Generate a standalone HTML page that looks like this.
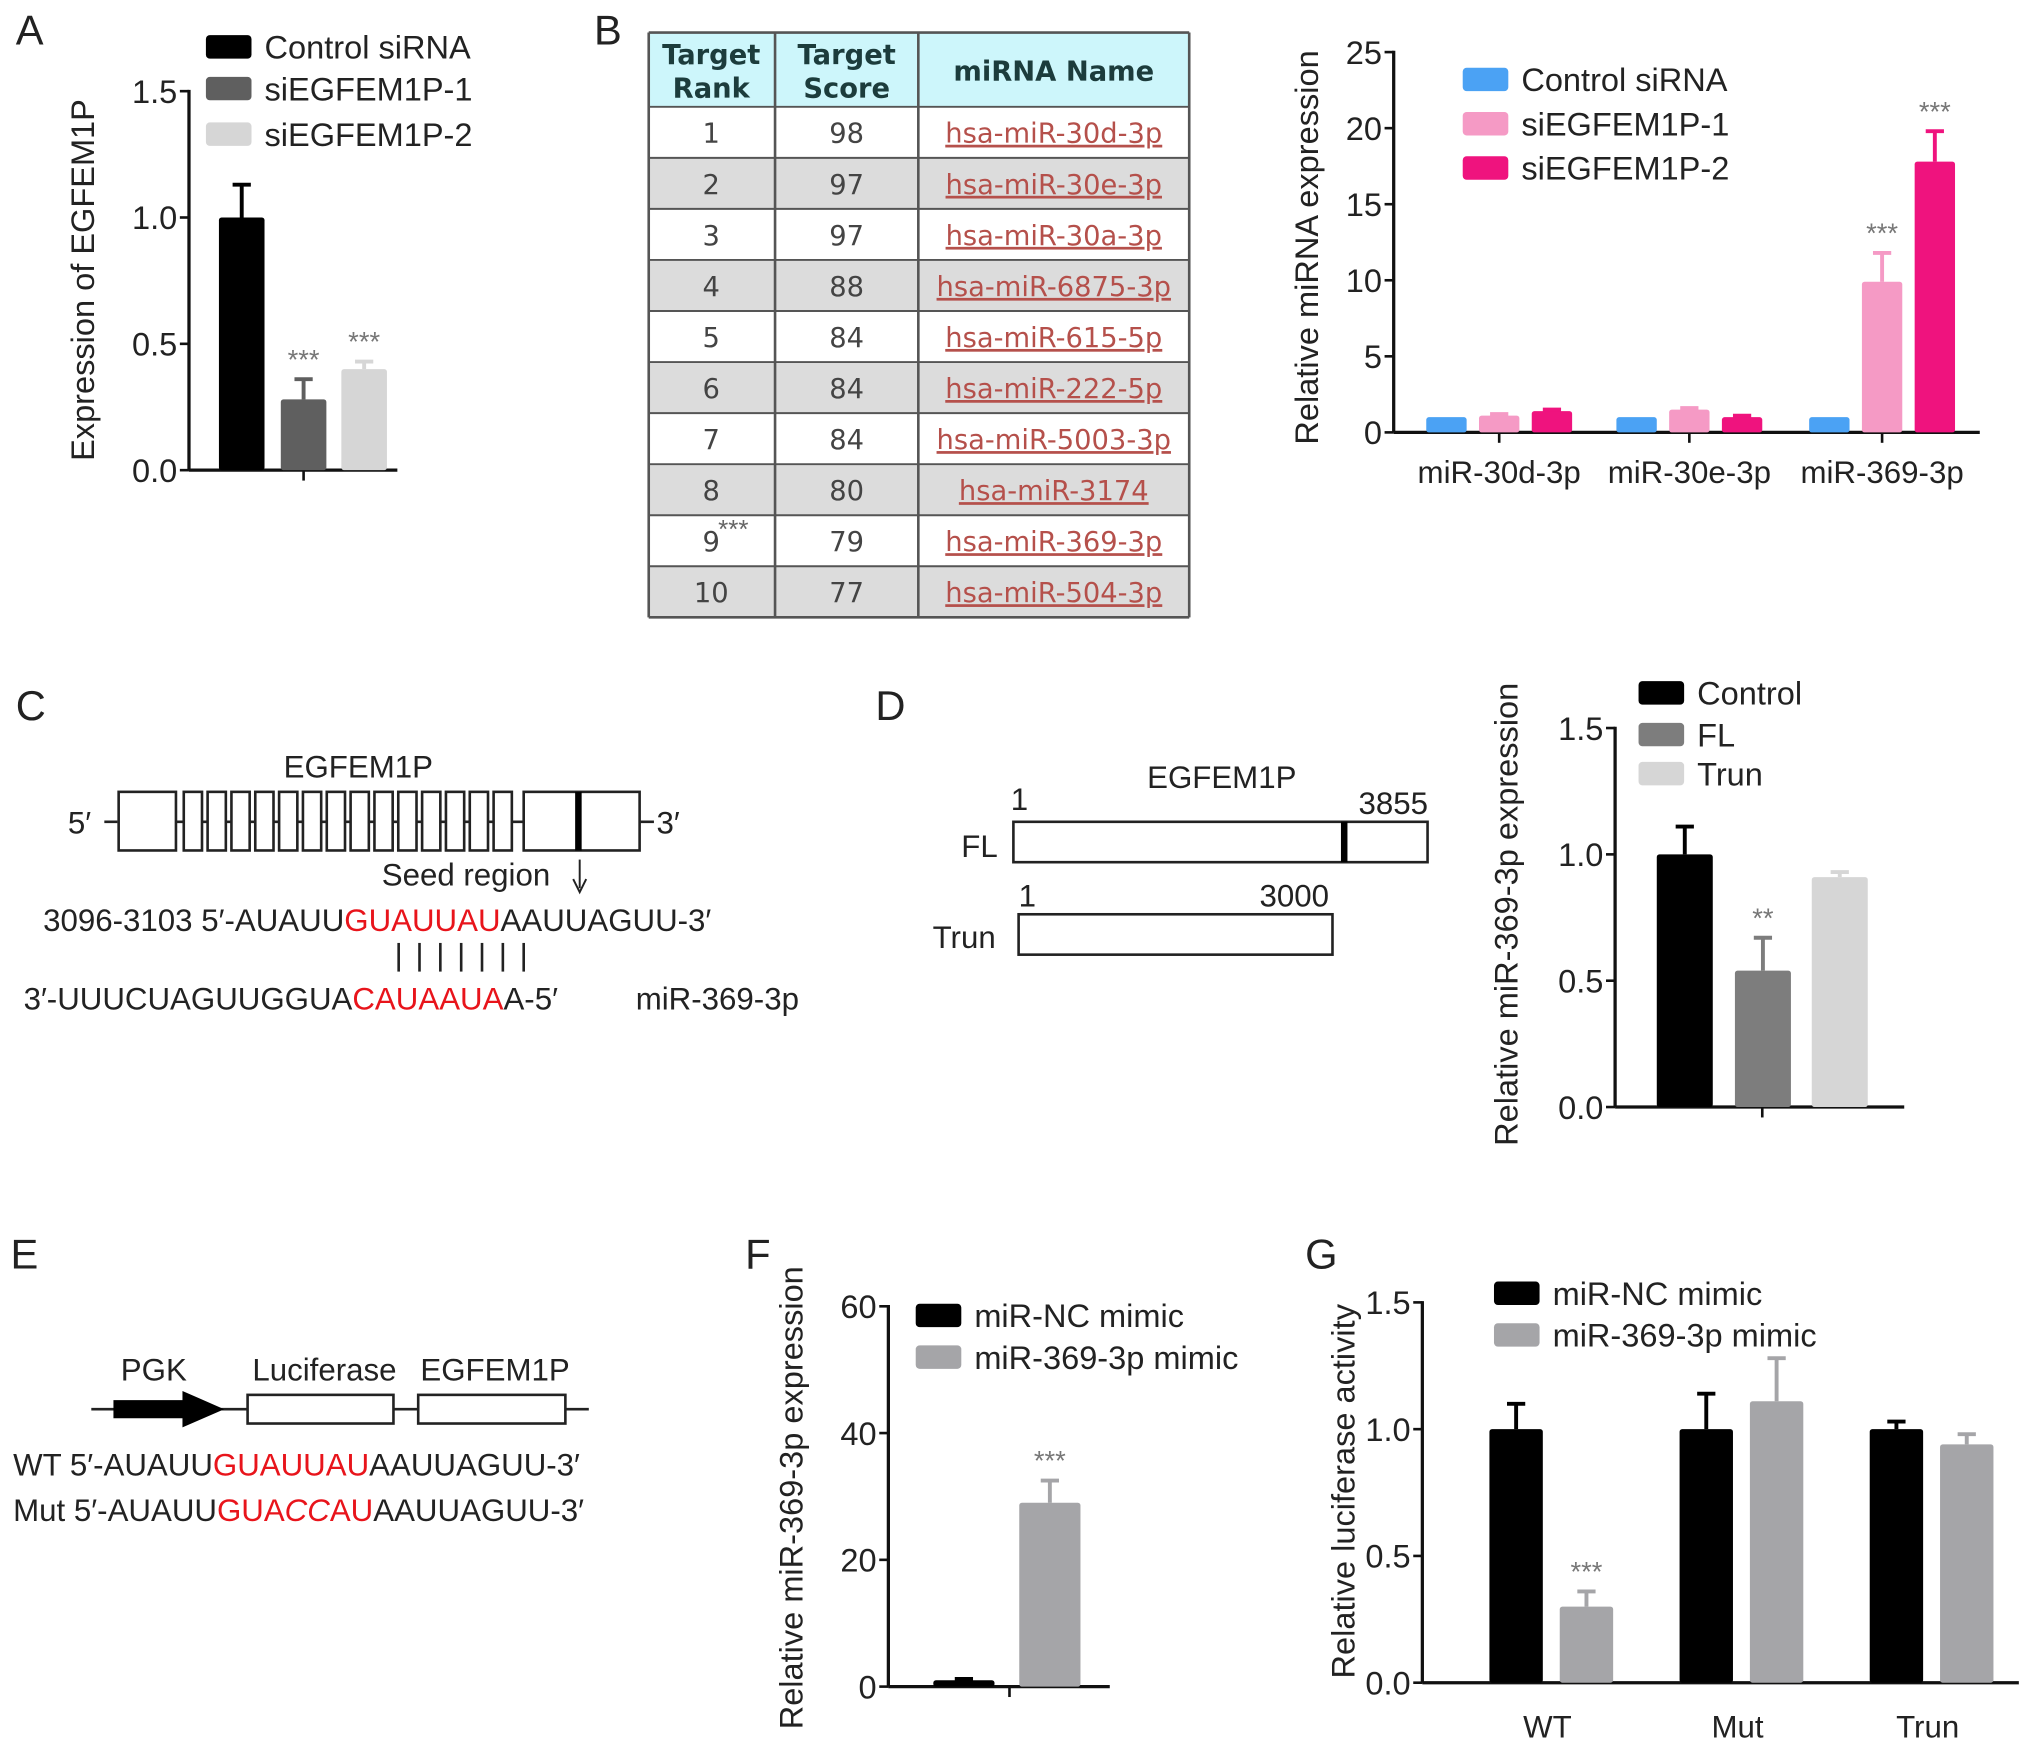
<!DOCTYPE html>
<html><head><meta charset="utf-8"><style>
html,body{margin:0;padding:0;background:#fff}
svg{display:block}
text{font-family:"Liberation Sans",Arial,sans-serif}
.tbl{font-family:"DejaVu Sans","Liberation Sans",sans-serif}
</style></head><body>
<svg id="fig" width="2032" height="1740" viewBox="0 0 1560 1336" fill="#222" xmlns="http://www.w3.org/2000/svg">
<g font-size="32">
<text x="12" y="34">A</text>
<text x="456" y="34">B</text>
<text x="12" y="553">C</text>
<text x="672" y="553">D</text>
<text x="8" y="974">E</text>
<text x="572" y="974">F</text>
<text x="1002" y="974">G</text>
</g>
<g id="table"></g>
<g font-size="24">
<text x="275" y="597" text-anchor="middle">EGFEM1P</text>
<text x="52" y="640">5′</text>
<line x1="80" y1="631" x2="90" y2="631" stroke="#222" stroke-width="2"/>
<line x1="90" y1="631" x2="492" y2="631" stroke="#222" stroke-width="2"/>
<line x1="492" y1="631" x2="502" y2="631" stroke="#222" stroke-width="2"/>
<text x="504" y="640">3′</text>
<rect x="91" y="608" width="44" height="45" fill="#fff" stroke="#222" stroke-width="2"/>
<g id="exons"></g>
<rect x="402" y="608" width="89" height="45" fill="#fff" stroke="#222" stroke-width="2"/>
<line x1="444" y1="608" x2="444" y2="653" stroke="#000" stroke-width="5"/>
<text x="293" y="680">Seed region</text>
<line x1="445" y1="660" x2="445" y2="682" stroke="#222" stroke-width="1.5"/>
<path d="M440 675 L445 685 L450 675" fill="none" stroke="#222" stroke-width="1.5"/>
<text x="33" y="715">3096-3103 5′-AUAUU<tspan fill="#e8141b">GUAUUAU</tspan>AAUUAGUU-3′</text>
<g id="pairs" stroke="#222" stroke-width="2"></g>
<text x="18" y="775">3′-UUUCUAGUUGGUA<tspan fill="#e8141b">CAUAAUA</tspan>A-5′</text>
<text x="488" y="775">miR-369-3p</text>
</g>
<g font-size="24">
<text x="938" y="605" text-anchor="middle">EGFEM1P</text>
<text x="776" y="622">1</text>
<text x="1043" y="625">3855</text>
<rect x="778" y="631" width="318" height="31" fill="#fff" stroke="#222" stroke-width="2"/>
<line x1="1032" y1="631" x2="1032" y2="662" stroke="#000" stroke-width="5"/>
<text x="738" y="658">FL</text>
<text x="782" y="696">1</text>
<text x="967" y="696">3000</text>
<rect x="782" y="702" width="241" height="31" fill="#fff" stroke="#222" stroke-width="2"/>
<text x="716" y="728">Trun</text>
</g>
<g font-size="24">
<line x1="70" y1="1082" x2="452" y2="1082" stroke="#222" stroke-width="2"/>
<path d="M87 1075 L140 1075 L140 1068 L172 1082 L140 1096 L140 1089 L87 1089 Z" fill="#000"/>
<rect x="190" y="1071" width="112" height="22" fill="#fff" stroke="#222" stroke-width="2"/>
<rect x="321" y="1071" width="113" height="22" fill="#fff" stroke="#222" stroke-width="2"/>
<text x="118" y="1060" text-anchor="middle">PGK</text>
<text x="249" y="1060" text-anchor="middle">Luciferase</text>
<text x="380" y="1060" text-anchor="middle">EGFEM1P</text>
<text x="10" y="1133">WT 5′-AUAUU<tspan fill="#e8141b">GUAUUAU</tspan>AAUUAGUU-3′</text>
<text x="10" y="1168">Mut 5′-AUAUU<tspan fill="#e8141b">GUA<tspan font-style="italic">CC</tspan>AU</tspan>AAUUAGUU-3′</text>
</g>
<g id="charts"></g>
</svg>
<script>
// Panel A data
const aCats=["Control siRNA","siEGFEM1P-1","siEGFEM1P-2"];
const aVals=[1.0,0.28,0.40];
const aErr=[0.13,0.08,0.03];
const aTicks=["0.0","0.5","1.0","1.5"];
// Panel B chart data
const bGroups=["miR-30d-3p","miR-30e-3p","miR-369-3p"];
const bSeries=["Control siRNA","siEGFEM1P-1","siEGFEM1P-2"];
const bCtrl=[1.0,1.0,1.0];
const bSi1=[1.1,1.5,9.9];
const bSi2=[1.4,1.0,17.8];
const bErr1=[0.1,0.1,1.9];
const bErr2=[0.1,0.1,2.0];
const bTicks=["0","5","10","15","20","25"];
// Table data
const tRank=["1","2","3","4","5","6","7","8","9","10"];
const tScore=["98","97","97","88","84","84","84","80","79","77"];
const tName=["hsa-miR-30d-3p","hsa-miR-30e-3p","hsa-miR-30a-3p","hsa-miR-6875-3p","hsa-miR-615-5p","hsa-miR-222-5p","hsa-miR-5003-3p","hsa-miR-3174","hsa-miR-369-3p","hsa-miR-504-3p"];
// Panel D data
const dCats=["Control","FL","Trun"];
const dVals=[1.0,0.54,0.91];
const dErr=[0.11,0.13,0.02];
const dTicks=["0.0","0.5","1.0","1.5"];
// Panel F data
const fCats=["miR-NC mimic","miR-369-3p mimic"];
const fVals=[1.0,29.0];
const fErr=[0.2,3.5];
const fTicks=["0","20","40","60"];
// Panel G data
const gGroups=["WT","Mut","Trun"];
const gNC=[1.0,1.0,1.0];
const gMimic=[0.30,1.11,0.94];
const gErrNC=[0.10,0.14,0.03];
const gErrMimic=[0.06,0.17,0.04];
const gTicks=["0.0","0.5","1.0","1.5"];

const NS="http://www.w3.org/2000/svg";
function mk(tag,attrs,parent){const e=document.createElementNS(NS,tag);for(const k in attrs)e.setAttribute(k,attrs[k]);parent.appendChild(e);return e;}
const charts=document.getElementById('charts');

const ex=document.getElementById('exons');
for(let i=0;i<14;i++){const r=mk('rect',{x:141+i*18.3,y:608,width:14,height:45,fill:'#fff',stroke:'#222','stroke-width':2},ex);

}
const pr=document.getElementById('pairs');
for(let i=0;i<7;i++){mk('line',{x1:306+i*16,y1:724,x2:306+i*16,y2:746},pr);}

const tb=document.getElementById('table');
const tx=[498,595,705,913],rh=39.2;
mk('rect',{x:498,y:25,width:415,height:57,fill:'#cdf6fb'},tb);
for(let i=0;i<10;i++){const r=mk('rect',{x:498,y:82+i*rh,width:415,height:rh,fill:i%2?'#dcdcdc':'#fff'},tb);

}
for(let i=0;i<=11;i++){const y=i==0?25:82+(i-1)*rh;mk('line',{x1:498,y1:y,x2:913,y2:y,stroke:'#555','stroke-width':i==0||i==11?2:1.5},tb);}
tx.forEach(x=>mk('line',{x1:x,y1:25,x2:x,y2:474,stroke:'#555','stroke-width':2},tb));
[["Target","Rank",546],["Target","Score",650]].forEach(h=>{
 const t1=mk('text',{x:h[2],y:49,'text-anchor':'middle','font-size':21,'font-weight':'bold',class:'tbl',fill:'#1c3c3c'},tb);t1.textContent=h[0];
 
 
 const t2=mk('text',{x:h[2],y:75,'text-anchor':'middle','font-size':21,'font-weight':'bold',class:'tbl',fill:'#1c3c3c'},tb);t2.textContent=h[1];});
const hn=mk('text',{x:809,y:62,'text-anchor':'middle','font-size':21,'font-weight':'bold',class:'tbl',fill:'#1c3c3c'},tb);hn.textContent="miRNA Name";


for(let i=0;i<10;i++){const y=82+i*rh+rh/2+8;
 const a=mk('text',{x:546,y:y,'text-anchor':'middle','font-size':21,class:'tbl',fill:'#444'},tb);a.textContent=tRank[i];
 const b=mk('text',{x:650,y:y,'text-anchor':'middle','font-size':21,class:'tbl',fill:'#444'},tb);b.textContent=tScore[i];
 const c=mk('text',{x:809,y:y,'text-anchor':'middle','font-size':21,class:'tbl',fill:'#b5504b','text-decoration':'underline'},tb);c.textContent=tName[i];
 
 }
const st=mk('text',{x:563,y:413,'text-anchor':'middle','font-size':20,fill:'#666'},tb);st.textContent="***";

function axis(g,x0,x1,yTop,yBot,vmax,ticks,title,tx,ty,tickX){
 mk('line',{x1:x0,y1:yTop-1,x2:x0,y2:yBot,stroke:'#111','stroke-width':2.5},g);
 mk('line',{x1:x0,y1:yBot,x2:x1,y2:yBot,stroke:'#111','stroke-width':2.5},g);
 ticks.forEach(t=>{const v=parseFloat(t);const y=yBot-(v/vmax)*(yBot-yTop);
  mk('line',{x1:x0-7,y1:y,x2:x0,y2:y,stroke:'#111','stroke-width':2},g);
  const e=mk('text',{x:x0-9,y:y+9,'text-anchor':'end','font-size':25},g);e.textContent=t;
  
  });
 (tickX||[]).forEach(x=>mk('line',{x1:x,y1:yBot,x2:x,y2:yBot+8,stroke:'#111','stroke-width':2},g));
 const tt=mk('text',{x:tx,y:ty,'text-anchor':'middle','font-size':25,transform:`rotate(-90 ${tx} ${ty})`},g);tt.textContent=title;
 
 
}
function bar(g,cx,w,v,err,yBot,scale,color,name){
 const y=yBot-v*scale;
 if(err>0){const ye=yBot-(v+err)*scale;
  mk('line',{x1:cx,y1:ye,x2:cx,y2:y,stroke:color,'stroke-width':3},g);
  mk('line',{x1:cx-7,y1:ye,x2:cx+7,y2:ye,stroke:color,'stroke-width':3},g);}
 const r=mk('rect',{x:cx-w/2,y:y,width:w,height:v*scale,fill:color,rx:2},g);
 
 
 return y;
}
function legend(g,x,ys,labels,colors){
 labels.forEach((l,i)=>{const s=mk('rect',{x:x,y:ys[i]-9,width:35,height:18,fill:colors[i],rx:3},g);
  
  
  const t=mk('text',{x:x+45,y:ys[i]+9,'font-size':25},g);t.textContent=l;
  
  });
}
function stars(g,x,y,s){const t=mk('text',{x:x,y:y,'text-anchor':'middle','font-size':21,fill:'#777'},g);t.textContent=s;
 
 }

{const g=mk('g',{},charts);
 const yB=361,yT=70,vm=1.5,sc=(yB-yT)/vm,cols=['#000','#5f5f5f','#d6d6d6'],cx=[185.5,233,279.5];
 axis(g,145,305,yT,yB,vm,aTicks,"Expression of EGFEM1P",72,215,[233]);
 aCats.forEach((c,i)=>{bar(g,cx[i],35,aVals[i],aErr[i],yB,sc,cols[i],'bar-a-'+i);
  if(i>0)stars(g,cx[i],yB-(aVals[i]+aErr[i])*sc-8,'***');});
 legend(g,158,[36,68,103],aCats,cols);}
{const g=mk('g',{},charts);
 const yB=332,yT=40,vm=25,sc=(yB-yT)/vm,cols=['#4ba2f4','#f59ac5','#ef137e'],cen=[1151,1297,1445];
 axis(g,1070,1520,yT,yB,vm,bTicks,"Relative miRNA expression",1012,190,cen);
 const vals=[bCtrl,bSi1,bSi2],errs=[[0,0,0],bErr1,bErr2];
 bGroups.forEach((gr,j)=>{
  vals.forEach((s,i)=>{const cx=cen[j]+(i-1)*40.5;bar(g,cx,31,s[j],errs[i][j],yB,sc,cols[i],'bar-b-'+j+'-'+i);
   if(j==2&&i>0)stars(g,cx,yB-(s[j]+errs[i][j])*sc-8,'***');});
  const t=mk('text',{x:cen[j],y:371,'text-anchor':'middle','font-size':24},g);t.textContent=gr;
  
  });
 legend(g,1123,[61,95,129],bSeries,cols);}
{const g=mk('g',{},charts);
 const yB=850,yT=559,vm=1.5,sc=(yB-yT)/vm,cols=['#000','#7d7d7d','#d6d6d6'],cx=[1293.5,1353.5,1412.5];
 axis(g,1240,1462,yT,yB,vm,dTicks,"Relative miR-369-3p expression",1165,702,[1353]);
 dCats.forEach((c,i)=>{bar(g,cx[i],43,dVals[i],dErr[i],yB,sc,cols[i],'bar-d-'+i);
  if(i==1)stars(g,cx[i],yB-(dVals[i]+dErr[i])*sc-8,'**');});
 legend(g,1258,[532,564,594],dCats,cols);}
{const g=mk('g',{},charts);
 const yB=1295,yT=1003,vm=60,sc=(yB-yT)/vm,cols=['#000','#a5a5a8'],cx=[740,806];
 axis(g,682,852,yT,yB,vm,fTicks,"Relative miR-369-3p expression",616,1150,[775]);
 fCats.forEach((c,i)=>{bar(g,cx[i],47,fVals[i],fErr[i],yB,sc,cols[i],'bar-f-'+i);
  if(i==1)stars(g,cx[i],yB-(fVals[i]+fErr[i])*sc-8,'***');});
 legend(g,703,[1010,1042],fCats,cols);}
{const g=mk('g',{},charts);
 const yB=1292,yT=1000,vm=1.5,sc=(yB-yT)/vm,cols=['#000','#a5a5a8'],cen=[1191,1337,1483];
 axis(g,1092,1550,yT,yB,vm,gTicks,"Relative luciferase activity",1040,1145,[]);
 gGroups.forEach((gr,j)=>{
  bar(g,cen[j]-27,41,gNC[j],gErrNC[j],yB,sc,cols[0],'bar-g-nc-'+j);
  bar(g,cen[j]+27,41,gMimic[j],gErrMimic[j],yB,sc,cols[1],'bar-g-mimic-'+j);
  if(j==0)stars(g,cen[j]+27,yB-(gMimic[j]+gErrMimic[j])*sc-8,'***');
  const t=mk('text',{x:cen[j]-3,y:1334,'text-anchor':'middle','font-size':24},g);t.textContent=gr;
  
  });
 legend(g,1147,[993,1025],fCats,cols);}
</script>
</body></html>
